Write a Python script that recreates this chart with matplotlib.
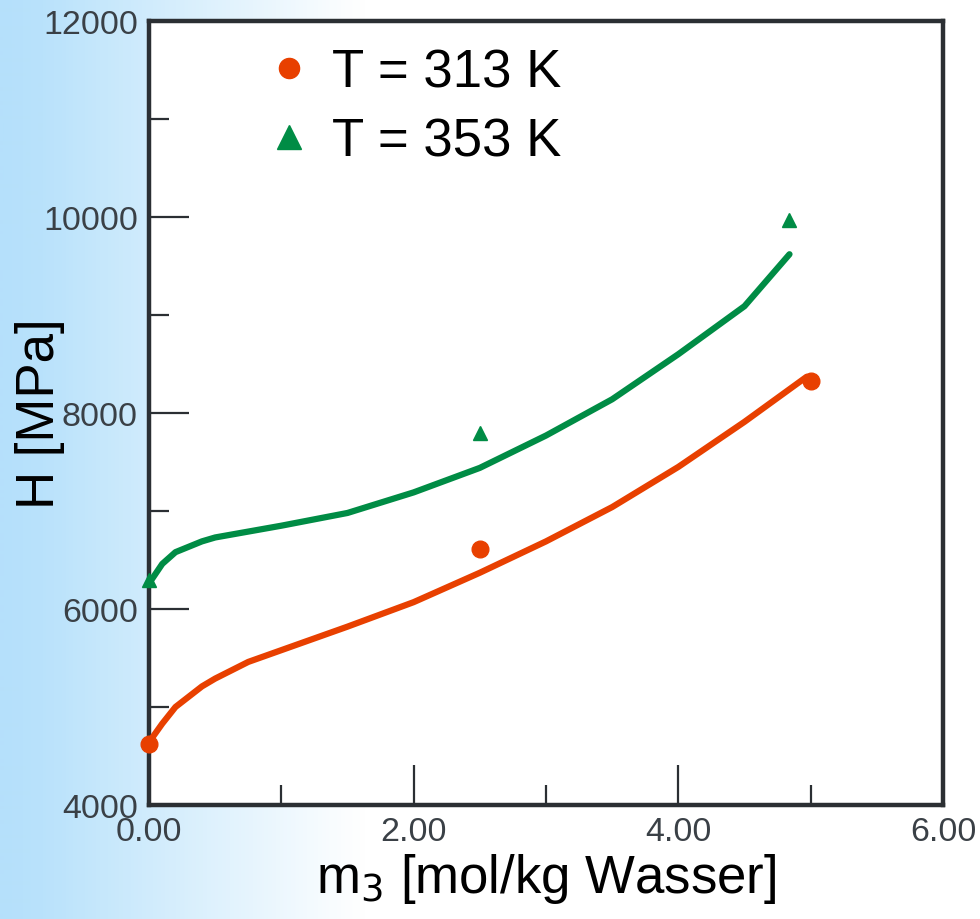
import numpy as np
import matplotlib
matplotlib.use("Agg")
import matplotlib.pyplot as plt
from matplotlib.lines import Line2D
from matplotlib.colors import LinearSegmentedColormap

plt.rcParams['font.family'] = ['Liberation Sans', 'DejaVu Sans']

# ---- data ----
x_313_pts = [0.0, 2.5, 5.0]
h_313_pts = [4620, 6610, 8330]
x_353_pts = [0.0, 2.5, 4.84]
h_353_pts = [6300, 7800, 9970]

x_313_line = [0.0, 0.1, 0.2, 0.4, 0.5, 0.75, 1.0, 1.5, 2.0, 2.5, 3.0, 3.5, 4.0, 4.5, 4.97]
h_313_line = [4640, 4830, 5000, 5210, 5290, 5460, 5580, 5820, 6070, 6370, 6690, 7040, 7450, 7910, 8370]
x_353_line = [0.0, 0.1, 0.2, 0.4, 0.5, 1.0, 1.5, 2.0, 2.5, 3.0, 3.5, 4.0, 4.5, 4.84]
h_353_line = [6260, 6460, 6580, 6690, 6730, 6850, 6980, 7190, 7440, 7770, 8140, 8600, 9090, 9620]

labels = ["T = 313 K", "T = 353 K"]
xticks = [0, 2, 4, 6]
xtick_labels = ["0.00", "2.00", "4.00", "6.00"]
yticks = [4000, 6000, 8000, 10000, 12000]

c_313 = '#e84000'
c_353 = '#008c45'
axis_col = '#2b2f33'
tick_col = '#3a4046'

fig = plt.figure(figsize=(9.8, 9.2), dpi=100)

# background gradient
bg = fig.add_axes([0, 0, 1, 1], zorder=-10)
grad = np.linspace(0, 1, 980)[None, :]
cmap = LinearSegmentedColormap.from_list('bg', [(0, '#b5e0fb'), (0.04, '#b9e2fb'),
                                                (0.37, '#ffffff'), (1, '#ffffff')])
bg.imshow(grad, aspect='auto', cmap=cmap, extent=[0, 1, 0, 1])
bg.set_axis_off()

ax = fig.add_axes([149/980, 1-806/920, (943-149)/980, (806-22)/920])
ax.set_facecolor('white')

ax.plot(x_313_line, h_313_line, color=c_313, lw=4.5, solid_capstyle='round', zorder=3)
ax.plot(x_353_line, h_353_line, color=c_353, lw=4.5, solid_capstyle='round', zorder=3)
ax.plot(x_313_pts, h_313_pts, 'o', color=c_313, ms=12, zorder=4, clip_on=False)
ax.plot(x_353_pts, h_353_pts, '^', color=c_353, ms=10.5, zorder=4, clip_on=False)

ax.set_xlim(0, 6)
ax.set_ylim(4000, 12000)
ax.set_xticks(xticks)
ax.set_xticklabels(xtick_labels)
ax.set_yticks(yticks)
ax.set_yticklabels([str(v) for v in yticks])
ax.set_xticks([1, 3, 5], minor=True)
ax.set_yticks([5000, 7000, 9000, 11000], minor=True)

ax.tick_params(which='major', direction='in', length=29, width=1.6, color=axis_col,
               labelsize=24.5, labelcolor=tick_col, pad=8)
ax.tick_params(which='minor', direction='in', length=14.5, width=1.6, color=axis_col)
for s in ax.spines.values():
    s.set_linewidth(3.2)
    s.set_color(axis_col)

ax.set_xlabel(r"m$_3$ [mol/kg Wasser]", fontsize=38, labelpad=3)
ax.set_ylabel("H [MPa]", fontsize=38)
ax.yaxis.set_label_coords(-0.106, 0.5)

handles = [Line2D([], [], ls='none', marker='o', color=c_313, ms=14.5),
           Line2D([], [], ls='none', marker='^', color=c_353, ms=17)]
ax.legend(handles, labels, loc='upper left', bbox_to_anchor=(0.150, 0.966),
          frameon=False, fontsize=38, handlelength=0.8, handletextpad=0.41,
          borderpad=0, borderaxespad=0, labelspacing=0.36)

fig.savefig('out.png', dpi=100)
